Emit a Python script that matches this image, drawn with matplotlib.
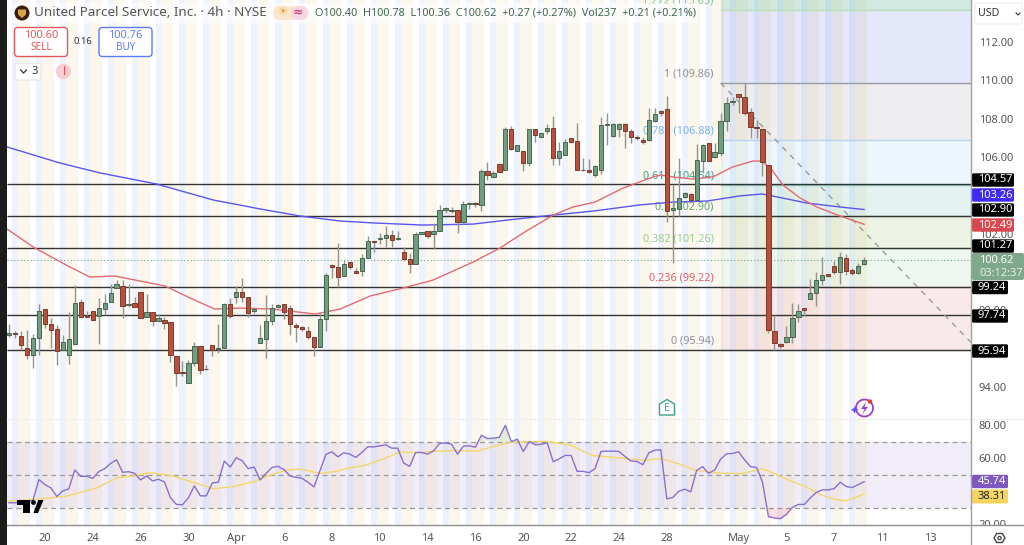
import numpy as np
import matplotlib
matplotlib.use("Agg")
import matplotlib.pyplot as plt
from matplotlib.patches import Circle, FancyBboxPatch, Polygon, Rectangle, Arc

plt.rcParams["font.family"] = ["Noto Sans", "DejaVu Sans"]

#==============================================
# UPS 4H BARS
#==============================================

bar_open = [96.70,96.82,96.68,96.05,95.65,96.56,98.07,97.30,97.01,95.91,95.65,96.26,98.42,97.72,97.97,97.72,
            98.09,98.45,99.15,99.25,98.28,98.40,98.94,97.67,97.90,97.46,97.48,97.37,95.63,94.78,94.21,95.27,
            96.12,94.96,96.21,96.00,96.02,98.31,98.68,98.94,98.68,97.98,96.31,96.52,97.43,98.16,98.31,98.10,
            97.25,97.13,96.90,96.63,96.09,97.53,100.35,100.26,99.79,100.50,100.07,100.05,100.75,101.62,101.74,101.77,
            101.91,101.72,101.06,100.66,100.42,102.00,102.12,102.00,102.14,103.22,103.18,103.22,102.63,103.56,103.60,103.51,
            105.25,104.94,105.62,105.34,107.44,106.33,106.30,105.70,107.44,107.03,107.37,107.50,105.93,106.10,106.97,106.84,
            105.34,105.30,105.08,105.30,107.65,107.08,107.48,107.72,107.34,107.03,106.90,106.90,107.88,108.38,108.49,103.22,
            103.30,103.90,104.05,103.76,105.81,106.73,105.98,106.23,107.89,108.85,109.27,109.15,108.33,107.55,107.48,105.56,
            96.94,96.26,96.33,96.63,97.63,98.10,98.57,98.92,99.60,99.88,100.30,99.98,100.75,100.09,99.93,100.40]
bar_high = [97.29,96.92,96.92,96.97,96.75,98.33,98.07,97.60,97.25,96.70,97.93,99.31,98.59,97.95,97.97,98.64,
            98.85,99.37,99.57,99.60,99.37,98.68,98.94,98.84,97.93,97.79,97.63,97.37,95.63,95.34,95.41,96.37,
            96.12,95.15,96.21,97.27,98.40,98.63,99.25,99.67,98.68,98.10,97.23,98.82,98.31,98.31,98.31,98.28,
            97.34,97.20,97.18,96.63,97.84,99.93,100.40,101.50,100.63,100.50,100.19,100.94,101.88,101.62,102.02,102.40,
            102.19,102.16,101.29,101.01,102.11,102.07,102.16,102.54,103.48,103.39,103.37,103.22,103.69,103.65,103.65,105.37,
            105.76,105.27,105.62,107.58,107.62,106.61,106.30,107.44,107.44,107.24,107.72,108.14,106.77,106.92,106.97,107.77,
            105.95,105.91,105.58,108.10,108.28,107.76,107.76,107.76,107.44,107.15,107.06,108.54,108.54,108.45,109.18,104.54,
            105.93,104.19,104.10,106.68,106.68,106.73,106.71,108.28,109.15,109.15,109.27,109.88,108.54,107.93,107.48,105.56,
            97.76,96.28,97.18,98.37,98.31,98.10,99.62,100.02,100.77,99.90,100.59,101.06,100.94,100.19,100.49,100.78]
bar_low = [96.59,96.57,95.93,95.45,94.97,95.67,97.10,96.03,95.15,95.91,95.22,96.26,97.65,97.63,97.48,96.26,
           97.76,98.45,99.15,97.62,98.19,98.16,97.58,97.67,97.18,97.43,97.04,95.30,94.05,94.57,94.21,95.10,
           94.70,94.89,95.63,95.76,96.02,97.58,98.37,98.45,97.67,97.88,96.31,95.53,97.22,98.14,97.55,96.73,
           96.37,96.94,96.51,95.62,96.09,96.94,99.69,99.20,99.79,100.16,99.97,99.79,100.75,101.03,101.44,101.32,
           101.32,101.67,100.68,99.93,100.42,101.98,101.79,101.22,102.14,103.06,103.10,102.02,102.54,103.27,103.41,103.20,
           104.80,104.94,105.23,105.34,106.38,106.33,105.29,105.53,106.78,107.03,107.20,105.58,105.58,106.10,106.71,105.30,
           105.27,105.18,104.97,105.11,106.63,107.06,107.03,106.45,106.71,106.89,106.66,106.85,107.84,108.16,102.63,100.49,
           102.92,103.84,103.72,103.72,105.15,105.81,105.93,106.05,107.36,108.69,108.28,108.19,106.97,106.97,105.01,96.80,
           95.93,96.02,96.28,96.31,97.41,97.70,98.57,98.24,99.32,99.76,99.90,99.36,99.84,99.84,99.90,100.36]
bar_close = [96.82,96.77,96.17,95.65,96.56,97.95,97.30,96.97,95.86,96.33,96.49,98.37,97.65,97.67,97.48,98.11,
             98.40,98.92,99.36,98.24,98.35,98.19,97.58,97.93,97.46,97.60,97.36,95.65,94.73,94.73,95.24,96.12,
             94.89,94.92,95.91,96.03,98.31,97.71,98.94,98.71,97.86,98.05,96.54,97.43,98.14,98.26,97.90,97.27,
             97.11,97.01,96.61,96.09,97.53,99.83,100.28,99.76,100.42,100.28,99.97,100.73,101.62,101.58,101.79,101.91,
             101.69,101.76,100.68,100.42,101.98,102.07,101.90,102.14,103.22,103.34,103.25,102.63,103.55,103.62,103.53,105.27,
             105.06,105.15,105.23,107.44,106.42,106.61,105.70,107.44,107.13,107.24,107.53,105.93,106.31,106.78,106.77,105.30,
             105.32,105.22,105.51,107.67,107.70,107.74,107.72,107.36,107.03,106.99,106.78,107.91,108.23,108.31,103.20,103.32,
             103.88,104.14,103.76,105.86,106.61,105.81,106.24,107.86,108.80,108.90,109.11,108.31,107.55,107.51,105.76,96.99,
             96.28,96.12,96.63,97.58,97.98,98.00,98.89,99.57,99.86,99.78,99.98,100.76,100.07,99.93,100.33,100.62]

# moving averages, read at bar positions
ma_red_bar = [-0.3,4,7.4,9.9,13.5,17.7,26.1,30.3,34.4,38.6,44,51.2,55.4,60.4,66.6,70.9,77.6,82.1,86,91,94.3,98,
              102.7,107.7,108.9,111,114.4,117.7,121,124.4,125.9,127.6,129.4,132.3,135.1,139,143]
ma_red = [102.24,101.31,100.73,100.31,99.74,99.79,99.27,98.64,98.07,98.12,98.07,97.81,98.07,98.75,99.22,99.58,100.52,
          101.25,102.04,102.97,103.39,103.65,104.38,104.96,105.06,104.96,104.85,104.96,105.48,105.79,105.79,105.32,
          104.54,103.86,103.39,102.92,102.49]
ma_blue_bar = [-0.3,3.5,8.5,15.2,24.7,34.1,42,48.7,55.4,60.9,69.2,77.6,83.3,91,97.7,105.5,111,116.7,122.2,125.9,127.6,
               133.4,139,143]
ma_blue = [106.52,106.16,105.69,105.17,104.59,103.76,103.29,102.92,102.66,102.56,102.45,102.50,102.71,102.97,103.18,
           103.50,103.65,103.70,103.97,104.07,103.97,103.60,103.39,103.26]

# RSI and its average
rsi = [33.0,33.0,33.4,34.0,34.4,47.0,44.0,42.0,36.8,40.2,41.4,52.8,49.0,49.0,47.8,51.8,53.6,56.8,59.0,51.4,51.8,50.8,
       46.8,49.2,46.2,47.2,45.6,36.0,32.0,31.8,36.0,43.2,37.2,37.2,45.0,45.4,58.2,54.6,60.2,58.4,53.6,54.6,46.8,50.8,
       54.4,55.0,53.0,49.2,48.4,47.8,45.4,42.6,52.4,62.2,63.8,60.8,63.2,62.4,60.4,63.4,66.8,66.8,67.4,68.0,66.0,66.0,
       57.0,55.0,63.4,63.4,62.4,64.4,68.8,69.2,68.4,62.4,67.2,67.4,66.6,73.8,71.8,72.0,72.6,79.8,70.0,71.4,64.0,70.0,
       68.0,68.4,69.2,57.8,59.6,61.6,61.6,52.0,52.0,51.2,53.6,64.0,64.2,64.2,64.0,61.0,58.2,58.0,56.0,63.2,64.8,65.0,
       35.4,36.2,40.0,41.2,39.6,52.6,54.8,50.8,52.8,59.4,62.6,62.8,63.8,59.0,54.8,54.4,45.6,24.6,23.8,23.4,26.0,30.2,
       32.0,32.0,36.0,39.2,40.8,40.8,41.6,45.4,42.8,42.2,44.0,45.74]
rsi_ma_bar = [-0.4,4.1,6,9.6,14.7,18,20.8,23.6,26.9,30.8,34.2,37.5,40.9,43.6,46.4,48.7,52,54.8,56.5,59.3,62.6,65.4,
              68.2,71.5,74.9,78.2,81,84.1,89.7,93.8,97.5,102.5,106.4,108.9,112,114.8,118.7,122.6,125.9,128.1,130.4,
              133.1,135.9,138.2,139.9,141.5,143]
rsi_ma = [33.8,35.0,35.6,37.0,42.0,48.0,49.2,51.2,49.6,45.4,41.4,42.8,45.8,49.6,52.8,53.4,50.8,52.0,53.8,55.4,59.4,
          63.8,63.2,64.2,64.6,64.2,67.0,69.6,70.2,68.0,61.6,60.0,58.6,59.8,56.6,52.6,51.0,50.6,53.6,50.6,46.6,43.0,
          37.6,35.0,34.2,36.2,38.31]

# levels
support_levels = [104.57,102.90,101.27,99.24,97.74,95.94]
last_price = 100.62
fib_ratio = ["1.272","1","0.786","0.618","0.5","0.382","0.236","0"]
fib_price = [113.65,109.86,106.88,104.54,102.90,101.26,99.22,95.94]
fib_text = ["#8cc08f","#8f9199","#7ab0e8","#3f9f8c","#6aa85a","#9cc98a","#e0606a","#8f9199"]
fib_line = ["#b8dcbc","#9a9ca5","#b8d4f2","#8cc7bd","#a9d19b","#c4e0b4","#d9a9a9","#c0c0c0"]
trend_bar = [119.0,160.8]
trend_price = [109.86,96.35]

tick_bars = [6,14,22,30,38,46,54,62,70,78,86,94,102,110,122,130,138,146,154]
tick_labels = ["20","24","26","30","Apr","6","8","10","14","16","20","22","24","28","May","5","7","11","13"]
price_ticks = [94,98,102,106,108,110,112]
rsi_ticks = [20,60,80]

#==============================================
# PAGE LAYOUT (pixel sizes of the chart window)
#==============================================

W,H = 1024,545
LEFT,RIGHT = 7,971
PRICE_BOTTOM,RSI_BOTTOM = 419,525
BAR0,BAR_STEP = 9,5.98
x_lo = (LEFT-BAR0)/BAR_STEP
x_hi = (RIGHT-BAR0)/BAR_STEP
n_bars = len(bar_open)
GRAY_TEXT = "#555555"

fig = plt.figure(figsize=(W/100,H/100),dpi=100,facecolor="white")
ax = fig.add_axes([LEFT/W,1-PRICE_BOTTOM/H,(RIGHT-LEFT)/W,PRICE_BOTTOM/H])
ax_rsi = fig.add_axes([LEFT/W,1-RSI_BOTTOM/H,(RIGHT-LEFT)/W,(RSI_BOTTOM-PRICE_BOTTOM)/H])
ui = fig.add_axes([0,0,1,1],zorder=10)
ui.set_xlim(0,W)
ui.set_ylim(H,0)
ui.axis("off")
ui.patch.set_alpha(0)

# session stripes: one regular bar, one pre-market bar, two post-market bars
for a in (ax,ax_rsi):
    for i in range(n_bars):
        if i%4==1:
            a.axvspan(i-0.5,i+0.5,color="#edf2fd",lw=0,zorder=0)
        elif i%4==2:
            a.axvspan(i-0.5,i+1.5,color="#fbf7ec",lw=0,zorder=0)
    a.set_xlim(x_lo,x_hi)
    for s in a.spines.values():
        s.set_visible(False)

#==============================================
# PRICE PANE
#==============================================

ax.set_ylim(106-(PRICE_BOTTOM-157)/19.17,106+157/19.17)

# fib retracement bands
fib_start = trend_bar[0]
band_colors = [("#2a40d8",0.12),("#787b86",0.12),("#64b5f6",0.12),("#009688",0.11),("#6ea83a",0.13),("#81c784",0.13),("#c84048",0.11)]
ax.fill_between([fib_start,x_hi],fib_price[0],ax.get_ylim()[1],color="#4ca88a",alpha=0.25,lw=0,zorder=1)
for i,(c,al) in enumerate(band_colors):
    ax.fill_between([fib_start,x_hi],fib_price[i+1],fib_price[i],color=c,alpha=al,lw=0,zorder=1)
for ratio,price,tc,lc in zip(fib_ratio,fib_price,fib_text,fib_line):
    ax.plot([fib_start,x_hi],[price,price],color=lc,lw=1,zorder=1.5)
    ax.annotate(f"{ratio} ({price:.2f})",xy=(fib_start,price),xytext=(-5,2.5),textcoords="offset points",
                ha="right",va="bottom",fontsize=7.8,color=tc,zorder=2,annotation_clip=False)

ax.hlines(support_levels,x_lo,x_hi,color="#333333",lw=1,zorder=3)
ax.hlines(last_price,x_lo,x_hi,color="#6ba583",lw=0.8,linestyles=(0,(1,2)),zorder=3)
ax.plot(trend_bar,trend_price,color="#9a9a9a",lw=1,ls=(0,(4,4)),zorder=3)
ax.plot(ma_blue_bar,ma_blue,color="#5a55f0",lw=1,zorder=4)
ax.plot(ma_red_bar,ma_red,color="#e46a72",lw=1,zorder=4)

# candles
o = np.array(bar_open)
c = np.array(bar_close)
up = c>=o
bars = np.arange(n_bars)
ax.vlines(bars,bar_low,bar_high,color="#93938c",lw=1,zorder=5)
ax.bar(bars[up],(c-o)[up],bottom=o[up],width=0.72,color="#6f9f7f",edgecolor="#48654f",lw=0.7,zorder=6)
ax.bar(bars[~up],(o-c)[~up],bottom=c[~up],width=0.72,color="#b9503c",edgecolor="#7a3c2e",lw=0.7,zorder=6)

ax.set_yticks(price_ticks,[f"{p:.2f}" for p in price_ticks])
ax.yaxis.tick_right()
ax.tick_params(axis="y",length=0,pad=5.5,labelsize=8,labelcolor=GRAY_TEXT)
ax.set_xticks([])

#==============================================
# RSI PANE
#==============================================

ax_rsi.set_ylim(80-(RSI_BOTTOM-425)/1.655,80+(425-PRICE_BOTTOM)/1.655)
ax_rsi.axhspan(30,70,color="#7e57c2",alpha=0.10,lw=0,zorder=1)
ax_rsi.hlines([70,50,30],x_lo,x_hi,color="#9a9a9a",lw=0.9,linestyles=(0,(4,3)),zorder=2)
rsi_arr = np.array(rsi)
ax_rsi.fill_between(bars,70,rsi_arr,where=rsi_arr>70,interpolate=True,color="#4caf50",alpha=0.15,lw=0,zorder=2)
ax_rsi.fill_between(bars,30,rsi_arr,where=rsi_arr<30,interpolate=True,color="#f23645",alpha=0.15,lw=0,zorder=2)
ax_rsi.plot(rsi_ma_bar,rsi_ma,color="#f2d86a",lw=1,zorder=3)
ax_rsi.plot(bars,rsi,color="#8a6fcf",lw=1,zorder=4)
ax_rsi.set_yticks(rsi_ticks,[f"{v:.2f}" for v in rsi_ticks])
ax_rsi.yaxis.tick_right()
ax_rsi.tick_params(axis="y",length=0,pad=5.5,labelsize=8,labelcolor=GRAY_TEXT)
ax_rsi.set_xticks(tick_bars,tick_labels)
ax_rsi.tick_params(axis="x",length=0,pad=6,labelsize=8,labelcolor=GRAY_TEXT)
for lab,name in zip(ax_rsi.get_xticklabels(),tick_labels):
    if name in ("Apr","May"):
        lab.set_fontweight("bold")

#==============================================
# WINDOW FURNITURE
#==============================================

ui.add_patch(Rectangle((0,0),6.5,H,color="#1c1c1c",lw=0))
ui.plot([LEFT,W],[PRICE_BOTTOM,PRICE_BOTTOM],color="#f0f0f0",lw=1)
ui.add_patch(Rectangle((RIGHT+1,526),W-RIGHT,H-526,color="white",lw=0))
ui.plot([LEFT,W],[RSI_BOTTOM,RSI_BOTTOM],color="#8f8f8f",lw=1)
ui.plot([RIGHT,RIGHT],[0,H],color="#a0a0a0",lw=1)

# header row
ui.add_patch(Rectangle((7,3),692,20,color="white",alpha=0.6,lw=0))
ui.add_patch(Circle((22,13),7.5,color="#3a1c0c",lw=0))
ui.add_patch(Polygon([(18,9.5),(26,9.5),(26,14.5),(22,18),(18,14.5)],color="#d9a441",lw=0))
ui.text(34,13,"United Parcel Service, Inc. · 4h · NYSE",fontsize=9.7,color="#555555",va="center")
ui.add_patch(FancyBboxPatch((273,6),25,14,boxstyle="round,pad=0,rounding_size=7",color="#fbe6cc",lw=0))
ui.add_patch(FancyBboxPatch((291,6),17,14,boxstyle="round,pad=0,rounding_size=7",color="#f9d6e3",lw=0))
ui.text(282,13,"☀",fontsize=8,color="#f0a030",va="center",ha="center")
ui.text(298,13,"≈",fontsize=9,color="#e0457f",va="center",ha="center",fontweight="bold")
ui.text(315,13,"O100.40  H100.78  L100.36  C100.62  +0.27 (+0.27%)  Vol237  +0.21 (+0.21%)",
        fontsize=7.85,color="#3f6650",va="center")

# sell and buy buttons
for x0,col,price,name in ((14.5,"#e0595e","100.60","SELL"),(99,"#5c7cfa","100.76","BUY")):
    ui.add_patch(FancyBboxPatch((x0,27.5),53,29,boxstyle="round,pad=0,rounding_size=3.5",fc="white",ec=col,lw=1))
    ui.text(x0+26.5,36,price,fontsize=8,color=col,ha="center",va="center")
    ui.text(x0+26.5,48,name,fontsize=7.2,color=col,ha="center",va="center")
ui.text(83,42,"0.16",fontsize=6.8,color="#333333",ha="center",va="center")

# collapsed indicators button and warning
ui.add_patch(FancyBboxPatch((15,63),26,17,boxstyle="round,pad=0,rounding_size=2",fc="white",ec="#e4e4e4",lw=0.8))
ui.plot([20.5,23.5,26.5],[70,73,70],color="#333333",lw=0.9)
ui.text(34.5,71.5,"3",fontsize=8,color="#333333",ha="center",va="center")
ui.add_patch(Circle((63.5,71.5),7.7,color="#f6cfd3",lw=0))
ui.text(63.5,71.5,"!",fontsize=8.5,color="#e0404c",ha="center",va="center",fontweight="bold")

# currency box
ui.add_patch(FancyBboxPatch((975,3),47,21,boxstyle="round,pad=0,rounding_size=2",fc="white",ec="#ececec",lw=0.8))
ui.text(978,14,"USD",fontsize=7.6,color="#333333",va="center")
ui.plot([1016,1018,1020],[13,15,13],color="#333333",lw=0.8)

# price scale labels, stacked so they do not overlap
scale_labels = [("104.57",180,"#000000",1014),("103.26",195,"#3f2bf5",1014),("102.90",210,"#000000",1014),
                ("102.49",225,"#d9474f",1014),("101.27",246,"#000000",1014),("99.24",287.5,"#000000",1008),
                ("97.74",316,"#000000",1008),("95.94",351,"#000000",1008),("45.74",481.5,"#7e57c2",1008)]
for text,yc,col,x_end in scale_labels:
    ui.add_patch(FancyBboxPatch((RIGHT+1,yc-6.7),x_end-RIGHT-1,13.4,boxstyle="round,pad=0,rounding_size=1.5",fc=col,ec="none"))
    ui.text(978,yc,text,fontsize=8,color="white",va="center")
ui.add_patch(FancyBboxPatch((RIGHT+1,489.5),36,14,boxstyle="round,pad=0,rounding_size=1.5",fc="#f4d55e",ec="none"))
ui.text(978,496.5,"38.31",fontsize=8,color="#222222",va="center")
ui.add_patch(FancyBboxPatch((RIGHT+1,253),52,27,boxstyle="round,pad=0,rounding_size=2",fc="#7fa78a",ec="none"))
ui.text(979,260.5,f"{last_price:.2f}",fontsize=8,color="white",va="center")
ui.text(979,273,"03:12:37",fontsize=8,color="#e6efe8",va="center")

# earnings flag
ui.add_patch(Polygon([(659.5,404),(667,399.5),(674.5,404),(674.5,415),(659.5,415)],fc="white",ec="#3c9f8a",lw=1))
ui.text(667,408.5,"E",fontsize=7.2,color="#3c9f8a",ha="center",va="center")

# alert badge
ui.add_patch(Arc((864.5,408),17,17,theta1=0,theta2=360,color="#9b3fd0",lw=1.3))
ui.add_patch(Polygon([(866,402),(861,409),(864.5,409),(862.5,414),(868,407),(864.5,407)],color="#9b3fd0",lw=0))
ui.text(854.5,411,"✦",fontsize=8,color="#6a4cf0",ha="center",va="center")
ui.add_patch(Circle((870,401.5),2.2,color="#e03a3a",lw=0))

# logo in the RSI pane
ui.add_patch(Polygon([(17,500),(30,500),(30,513),(22.5,513),(22.5,505),(17,505)],color="black",lw=0))
ui.add_patch(Circle((33.5,502.5),2.4,color="black",lw=0))
ui.add_patch(Polygon([(33.5,513),(38.3,500),(43.5,500),(38,513)],color="black",lw=0))

# settings icon
ui.add_patch(Polygon([(994,538),(996.7,533.5),(1002.3,533.5),(1005,538),(1002.3,542.5),(996.7,542.5)],fc="white",ec="#444444",lw=1))
ui.add_patch(Circle((999.5,538),1.6,fc="white",ec="#444444",lw=0.9))

fig.savefig("out.png",dpi=100)
